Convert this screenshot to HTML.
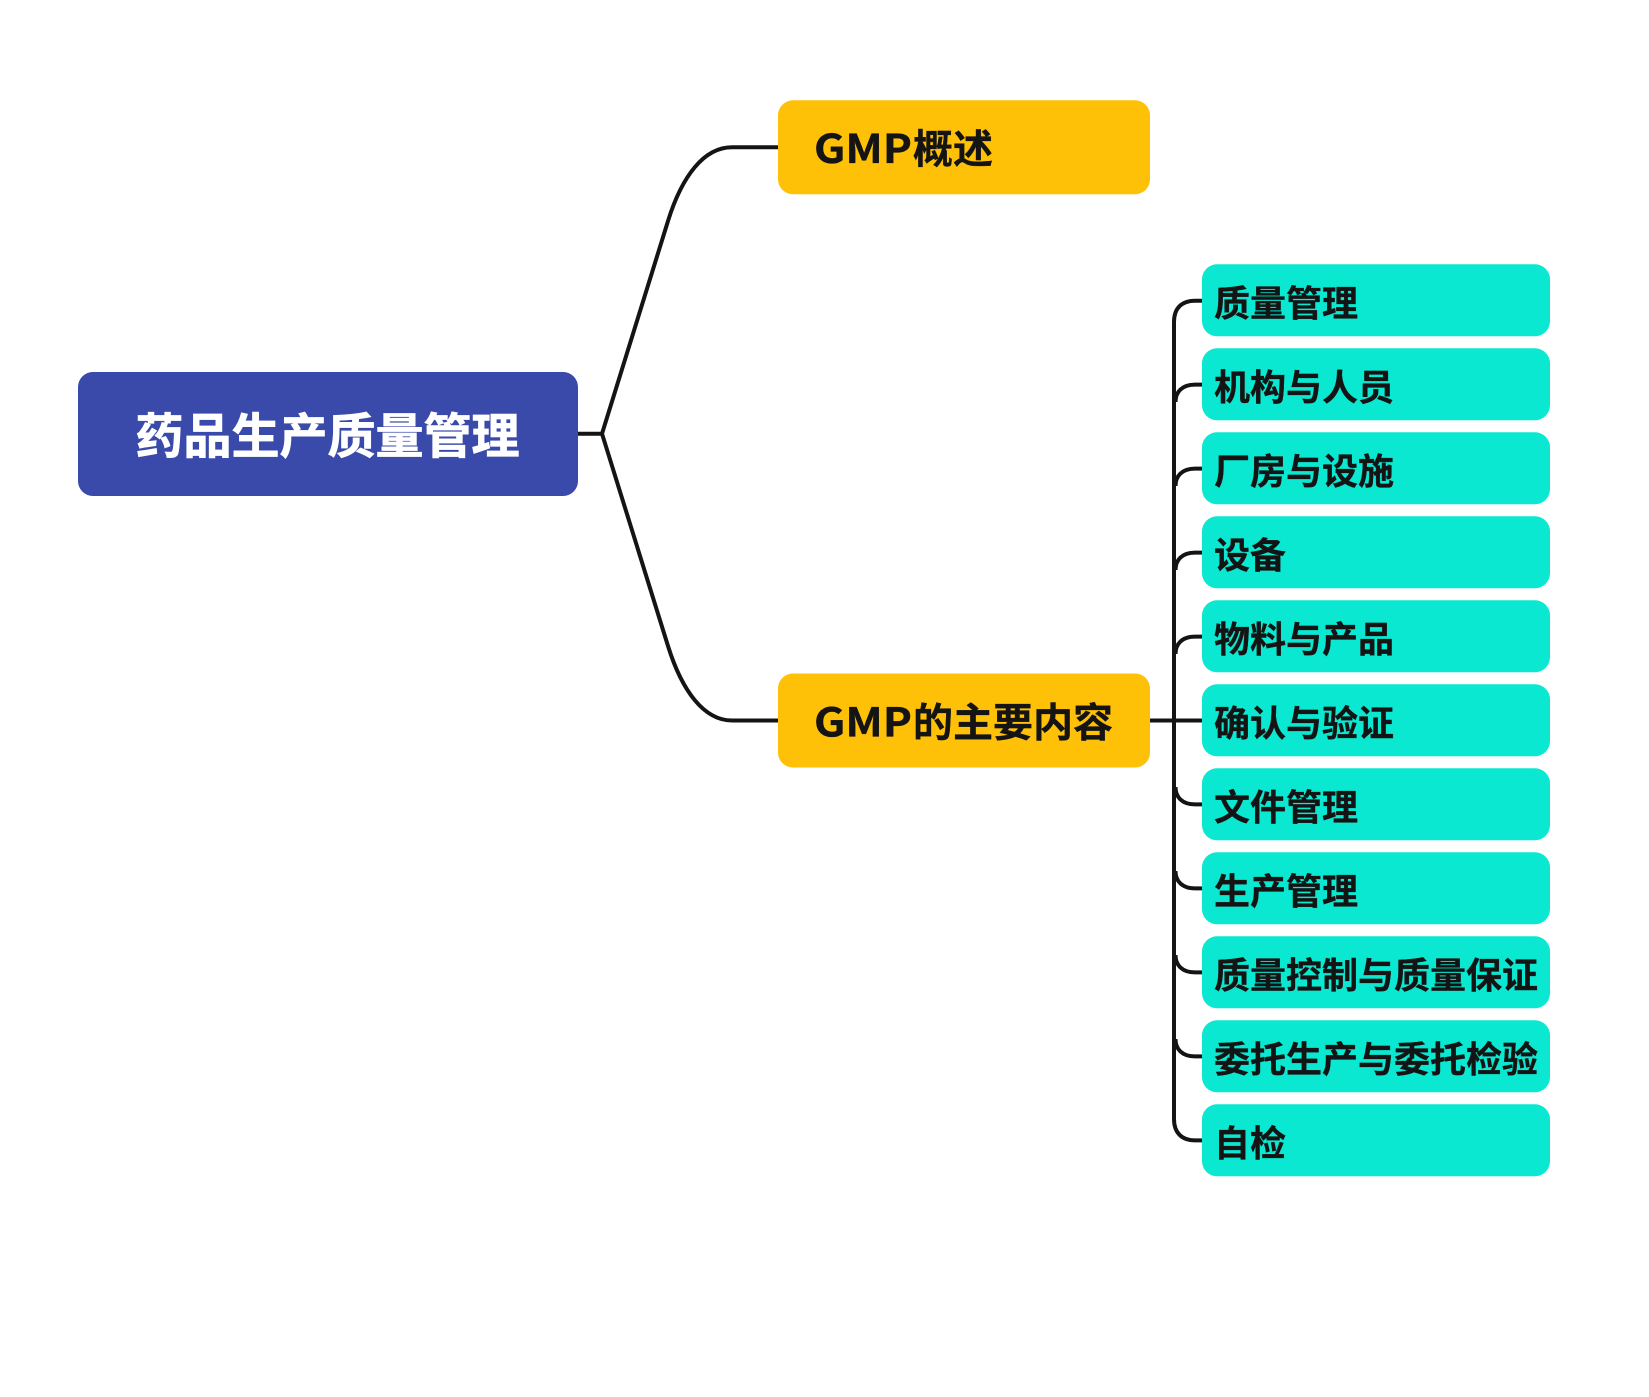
<!DOCTYPE html>
<html><head><meta charset="utf-8"><style>
html,body{margin:0;padding:0;background:#fff}
svg{display:block}
text{font-family:"Noto Sans CJK SC",sans-serif;font-weight:700;fill:#141414;stroke:#141414;stroke-width:.35px}
.t{font-size:36px}
.y{font-size:40px}
path{fill:none;stroke:#141414;stroke-width:4}
.n{fill:#0BE8D1}
</style></head><body>
<svg width="1649" height="1397" viewBox="0 0 1649 1397" xmlns="http://www.w3.org/2000/svg">
<path d="M578 433.7H602L668 221C682 176 704 147.300 732 147.300H778"/>
<path d="M602 433.700L668 646C682 691 704 720.500 732 720.500H778"/>
<path d="M1150 720.500H1202"/>
<path d="M1174 720V322C1174 308 1182 300.700 1195 300.700H1202"/>
<path d="M1175.500 402C1175.500 392 1182 384.600 1195 384.600H1202"/>
<path d="M1175.500 486C1175.500 476 1182 468.600 1195 468.600H1202"/>
<path d="M1175.500 570C1175.500 560 1182 552.600 1195 552.600H1202"/>
<path d="M1175.500 654C1175.500 644 1182 636.600 1195 636.600H1202"/>
<path d="M1174 720V1119C1174 1133 1182 1140.400 1195 1140.400H1202"/>
<path d="M1175.500 787C1175.500 797 1182 804.400 1195 804.400H1202"/>
<path d="M1175.500 871C1175.500 881 1182 888.400 1195 888.400H1202"/>
<path d="M1175.500 955C1175.500 965 1182 972.400 1195 972.400H1202"/>
<path d="M1175.500 1039C1175.500 1049 1182 1056.400 1195 1056.400H1202"/>
<rect x="78" y="372" width="500" height="124" rx="15" fill="#3A4AAB"/>
<rect x="778" y="100.300" width="372" height="94" rx="15" fill="#FFC107"/>
<rect x="778" y="673.500" width="372" height="94" rx="15" fill="#FFC107"/>
<rect class="n" x="1202" y="264.300" width="348" height="72" rx="15"/>
<rect class="n" x="1202" y="348.300" width="348" height="72" rx="15"/>
<rect class="n" x="1202" y="432.300" width="348" height="72" rx="15"/>
<rect class="n" x="1202" y="516.300" width="348" height="72" rx="15"/>
<rect class="n" x="1202" y="600.300" width="348" height="72" rx="15"/>
<rect class="n" x="1202" y="684.300" width="348" height="72" rx="15"/>
<rect class="n" x="1202" y="768.300" width="348" height="72" rx="15"/>
<rect class="n" x="1202" y="852.300" width="348" height="72" rx="15"/>
<rect class="n" x="1202" y="936.300" width="348" height="72" rx="15"/>
<rect class="n" x="1202" y="1020.300" width="348" height="72" rx="15"/>
<rect class="n" x="1202" y="1104.300" width="348" height="72" rx="15"/>
<text x="135.500" y="453" style="fill:#fff;stroke:#fff;stroke-width:.8px;font-size:48px">药品生产质量管理</text>
<text class="y" x="814" y="163" textLength="98" lengthAdjust="spacingAndGlyphs">GMP</text>
<text class="y" x="913" y="163">概述</text>
<text class="y" x="814" y="736.500" textLength="98" lengthAdjust="spacingAndGlyphs">GMP</text>
<text class="y" x="913" y="736.500">的主要内容</text>
<text class="t" x="1214" y="316">质量管理</text>
<text class="t" x="1214" y="400">机构与人员</text>
<text class="t" x="1214" y="484">厂房与设施</text>
<text class="t" x="1214" y="568">设备</text>
<text class="t" x="1214" y="652">物料与产品</text>
<text class="t" x="1214" y="736">确认与验证</text>
<text class="t" x="1214" y="820">文件管理</text>
<text class="t" x="1214" y="904">生产管理</text>
<text class="t" x="1214" y="988">质量控制与质量保证</text>
<text class="t" x="1214" y="1072">委托生产与委托检验</text>
<text class="t" x="1214" y="1156">自检</text>
</svg>
</body></html>
